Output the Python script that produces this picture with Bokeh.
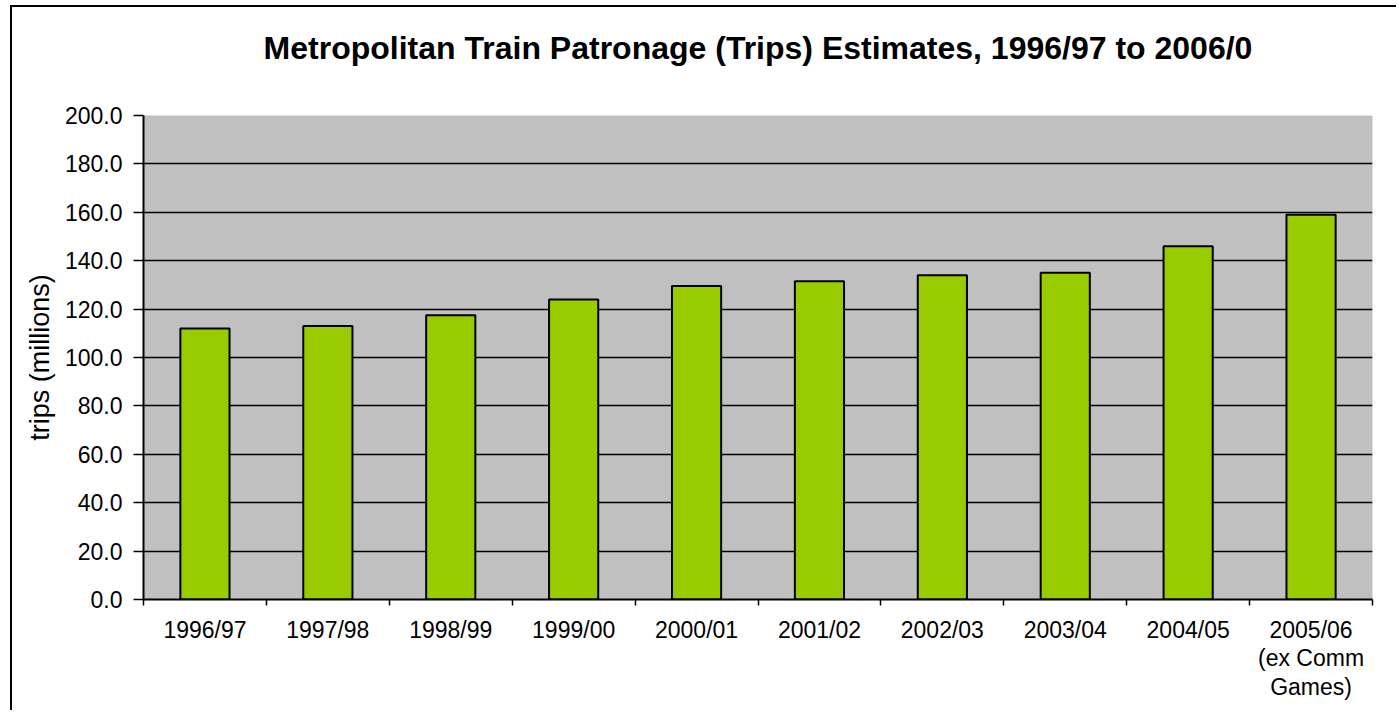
from bokeh.plotting import figure
from bokeh.models import Range1d, FixedTicker, CustomJSTickFormatter, NumeralTickFormatter, ColumnDataSource
from bokeh.embed import file_html
from bokeh.resources import INLINE

# ---- data ----
categories = ["1996/97", "1997/98", "1998/99", "1999/00", "2000/01",
              "2001/02", "2002/03", "2003/04", "2004/05",
              "2005/06\n(ex Comm\nGames)"]
trips = [112.0, 113.0, 117.5, 124.0, 129.5, 131.5, 134.0, 135.0, 146.0, 159.0]
y_ticks = [0, 20, 40, 60, 80, 100, 120, 140, 160, 180, 200]
grid_ticks = [20, 40, 60, 80, 100, 120, 140, 160, 180]
title_text = "Metropolitan Train Patronage (Trips) Estimates, 1996/97 to 2006/0"
y_label = "trips (millions)"

n = len(categories)
centers = [i + 0.5 for i in range(n)]
bounds = list(range(n + 1))

src = ColumnDataSource(dict(x=centers, top=trips, cat=categories))

FONT = "Liberation Sans"

p = figure(width=1386, height=705,
           x_range=Range1d(0, n), y_range=Range1d(0, 200),
           output_backend="svg", toolbar_location=None,
           min_border_left=131, min_border_right=26,
           min_border_top=108, min_border_bottom=113,
           background_fill_color="#C0C0C0", border_fill_color="white",
           outline_line_color=None, title=title_text + "\n ")

p.styles = {"border-left": "2px solid black", "border-top": "2px solid black",
            "margin-left": "10px", "margin-top": "5px"}

p.title.text_font = FONT
p.title.text_font_size = "32px"
p.title.text_font_style = "bold"
p.title.text_color = "black"
p.title.align = "center"
p.title.standoff = 28

p.vbar(x="x", top="top", width=0.4, source=src,
       fill_color="#99CC00", line_color="black", line_width=2)

# grid
p.xgrid.visible = False
p.ygrid.ticker = FixedTicker(ticks=grid_ticks)
p.ygrid.grid_line_color = "black"
p.ygrid.grid_line_width = 1.5

# x axis
xa = p.xaxis[0]
xa.ticker = FixedTicker(ticks=centers, minor_ticks=bounds)
xa.formatter = CustomJSTickFormatter(args=dict(labels=categories),
    code="const i = Math.floor(tick); return (i >= 0 && i < labels.length) ? labels[i] : '';")
xa.major_tick_in = 0
xa.major_tick_out = 0
xa.minor_tick_in = 0
xa.minor_tick_out = 6
xa.minor_tick_line_color = "black"
xa.minor_tick_line_width = 1.5
xa.axis_line_color = "black"
xa.axis_line_width = 2
xa.major_label_text_font = FONT
xa.major_label_text_font_size = "23px"
xa.major_label_text_color = "black"
xa.major_label_text_line_height = 1.1
xa.major_label_standoff = 11

# y axis
ya = p.yaxis[0]
ya.ticker = FixedTicker(ticks=y_ticks)
ya.formatter = NumeralTickFormatter(format="0.0")
ya.major_tick_in = 0
ya.major_tick_out = 10
ya.minor_tick_line_color = None
ya.major_tick_line_color = "black"
ya.major_tick_line_width = 1.5
ya.axis_line_color = "black"
ya.axis_line_width = 2
ya.major_label_text_font = FONT
ya.major_label_text_font_size = "23px"
ya.major_label_text_color = "black"
ya.major_label_standoff = 11
ya.axis_label = y_label
ya.axis_label_text_font = FONT
ya.axis_label_text_font_size = "27px"
ya.axis_label_text_font_style = "normal"
ya.axis_label_text_color = "black"
ya.axis_label_standoff = 7

open("out.html", "w").write(file_html(p, INLINE))
